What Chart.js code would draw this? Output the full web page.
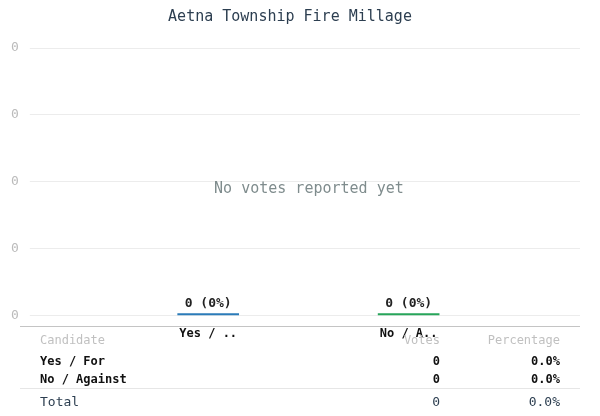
<!DOCTYPE html>
<html><head><meta charset="utf-8">
<script src="https://cdn.jsdelivr.net/npm/chart.js@4"></script>
<style>
body{margin:0;width:600px;height:416px;background:#fff;overflow:hidden;position:relative;font-family:"DejaVu Sans Mono",monospace}
#wrap{position:absolute;left:0;top:0;width:600px;height:344px}
table{position:absolute;left:20px;top:326px;width:560px;border-collapse:collapse;font-size:12px;border-top:1px solid #c4c4c4}
th{color:#c0c0c0;font-weight:normal;font-size:12px;height:25px;text-align:left;padding:0 0 0 20px}
td{font-weight:bold;color:#111;height:18px;padding:0 0 0 20px}
.r{text-align:right;padding-right:20px}
tr.tot td{font-weight:normal;color:#2c3e50;font-size:13px;border-top:1px solid #e6e6e6;height:24px}
</style></head><body>
<div id="wrap"><canvas id="c"></canvas></div>
<table>
<tr><th>Candidate</th><th class="r">Votes</th><th class="r" style="width:80px">Percentage</th></tr>
<tr><td>Yes / For</td><td class="r">0</td><td class="r">0.0%</td></tr>
<tr><td>No / Against</td><td class="r">0</td><td class="r">0.0%</td></tr>
<tr class="tot"><td>Total</td><td class="r">0</td><td class="r">0.0%</td></tr>
</table>
<script>
const categories=['Yes / For','No / Against'];
const shortLabels=['Yes / ..','No / A..'];
const votes=[0,0];
const percents=['0%','0%'];
const barColors=['#2b7bb9','#27a55a'];
const yTickLabels=['0','0','0','0','0'];
const F='"DejaVu Sans Mono", monospace';
const overlay={id:'ov',afterDatasetsDraw(ch){
  const c=ch.ctx,a=ch.chartArea,m=ch.getDatasetMeta(0);
  c.save();c.font='bold 13px '+F;c.fillStyle='#222';c.textAlign='center';c.textBaseline='bottom';
  m.data.forEach((b,i)=>c.fillText(votes[i]+' ('+percents[i]+')',b.x,b.y-3));
  c.font='15px '+F;c.fillStyle='#7f8c8d';c.textBaseline='middle';
  c.fillText('No votes reported yet',(a.left+a.right)/2,189);
  c.restore();}};
new Chart(document.getElementById('c'),{type:'bar',
 data:{datasets:[{data:votes.map((v,i)=>({x:i,y:v})),backgroundColor:barColors,barThickness:61,minBarLength:2}]},
 plugins:[overlay],
 options:{responsive:true,maintainAspectRatio:false,animation:false,
  layout:{padding:{top:0,right:20,left:0,bottom:0}},
  plugins:{legend:{display:false},tooltip:{enabled:false},
   title:{display:true,text:'Aetna Township Fire Millage',color:'#2c3e50',font:{family:F,size:15,weight:'normal'},padding:{top:8,bottom:22}}},
  scales:{
   x:{type:'linear',offset:false,bounds:'data',min:-0.85,max:1.855,grid:{display:false},border:{display:false},
      afterBuildTicks(ax){ax.ticks=[{value:0},{value:1}];},
      ticks:{autoSkip:false,maxRotation:0,padding:3,color:'#111',font:{family:F,size:12,weight:'bold'},callback:(v)=>shortLabels[v]}},
   y:{min:0,max:1,grid:{color:'#ececec'},border:{display:false},
      ticks:{stepSize:0.25,padding:11,color:'#bbb',font:{family:F,size:13},callback:(v,i)=>yTickLabels[i]}}}}});
</script></body></html>
